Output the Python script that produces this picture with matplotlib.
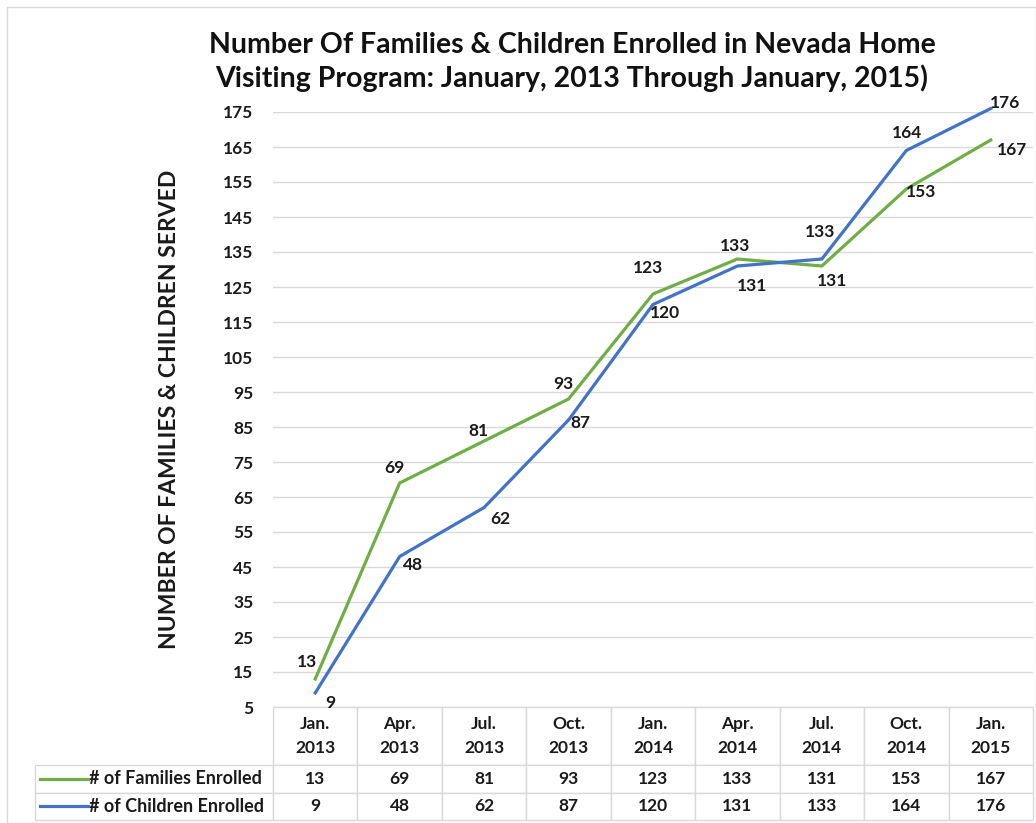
import matplotlib
matplotlib.use("Agg")
import matplotlib.pyplot as plt
from matplotlib.patches import Rectangle

plt.rcParams['font.family'] = ['Lato', 'DejaVu Sans']

# dados
periodos = ["Jan.\n2013", "Apr.\n2013", "Jul.\n2013", "Oct.\n2013", "Jan.\n2014",
            "Apr.\n2014", "Jul.\n2014", "Oct.\n2014", "Jan.\n2015"]
familias = [13, 69, 81, 93, 123, 133, 131, 153, 167]
criancas = [9, 48, 62, 87, 120, 131, 133, 164, 176]
nomes = ["# of Families Enrolled", "# of Children Enrolled"]
cores = ["#70AD47", "#4472C4"]

# deslocamento dos rótulos (pixels)
off_fam = [(-8, 17), (-5, 15), (-6, 10), (-5, 15), (-5, 26), (-2, 13), (10, -15), (15, -3), (21, -10)]
off_cri = [(15, -10), (13, -8), (16, -12), (12, -3), (12, -8), (15, -20), (-2, 27), (1, 18), (14, 5)]

W, H = 1036, 823
fig = plt.figure(figsize=(W / 100, H / 100), dpi=100)
ax = fig.add_axes([273 / W, 1 - 707 / H, 760 / W, 595 / H])

x = list(range(len(periodos)))
ax.plot(x, familias, color=cores[0], lw=2.3, zorder=3, clip_on=False)
ax.plot(x, criancas, color=cores[1], lw=2.3, zorder=3, clip_on=False)

for xi, v, o in zip(x, familias, off_fam):
    ax.annotate(str(v), (xi, v), xytext=o, textcoords='offset pixels', annotation_clip=False,
                ha='center', va='center', fontsize=12.5, fontweight='bold', color='#1a1a1a')
for xi, v, o in zip(x, criancas, off_cri):
    ax.annotate(str(v), (xi, v), xytext=o, textcoords='offset pixels', annotation_clip=False,
                ha='center', va='center', fontsize=12.5, fontweight='bold', color='#1a1a1a')

ax.set_xlim(-0.5, len(periodos) - 0.5)
ax.set_ylim(5, 175)
ax.set_yticks(range(5, 176, 10))
ax.set_xticks([])
ax.tick_params(axis='y', length=0, pad=14, labelsize=12.5, labelcolor='#1a1a1a')
for lbl in ax.get_yticklabels():
    lbl.set_fontweight('bold')
ax.grid(axis='y', color='#D9D9D9', lw=1)
ax.set_axisbelow(True)
for s in ax.spines.values():
    s.set_visible(False)

ax.set_ylabel("NUMBER OF FAMILIES & CHILDREN SERVED", fontsize=16.5, fontweight='bold', color='#1a1a1a')
ax.yaxis.set_label_coords((180 - 273) / 760, 0.5)

# tabela de dados (primeira coluna = nomes das séries)
linhas = [[nomes[0]] + [str(v) for v in familias],
          [nomes[1]] + [str(v) for v in criancas]]
tab = ax.table(cellText=linhas, colLabels=[""] + periodos, cellLoc='center',
               bbox=[(35 - 273) / 760, -113 / 595, 998 / 760, 113 / 595])
tab.auto_set_font_size(False)
for (r, c), cell in tab.get_celld().items():
    t = cell.get_text()
    cell.set_edgecolor('#D9D9D9')
    cell.set_linewidth(1)
    t.set_fontweight('bold')
    t.set_fontsize(12.5)
    t.set_color('#1a1a1a')
    cell.set_width(238 / 760 if c == 0 else 1 / 9)
    cell.set_height(58 / 595 if r == 0 else 27.5 / 595)
    if r == 0:
        t.set_linespacing(1.55)
    if c == 0:
        t.set_horizontalalignment('left')
        cell.PAD = 0.227
        t.set_fontsize(13)
        if r == 0:
            cell.visible_edges = ''

# linhas da legenda
for i, cor in enumerate(cores):
    yc = (-(58 + 27.5 * i + 13.75)) / 595
    ax.plot([(40 - 273) / 760, (88 - 273) / 760], [yc, yc], color=cor, lw=2.3,
            transform=ax.transAxes, clip_on=False)

fig.text(572 / W, 1 - 62 / H,
         "Number Of Families & Children Enrolled in Nevada Home\nVisiting Program: January, 2013 Through January, 2015)",
         ha='center', va='center', fontsize=20.5, fontweight='bold', linespacing=1.3, color='#111111')

fig.patches.append(Rectangle((7 / W, 0), 1 - 7 / W, 1 - 7 / H, transform=fig.transFigure,
                             fill=False, edgecolor='#D9D9D9', lw=1))

fig.savefig("out.png", dpi=100)
